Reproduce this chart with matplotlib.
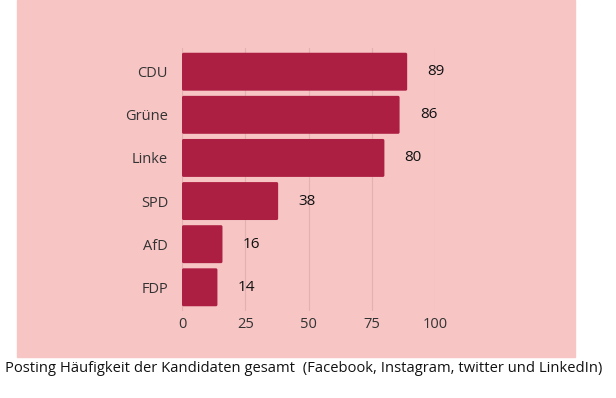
import matplotlib.pyplot as plt
from matplotlib.patches import Rectangle, FancyBboxPatch

parties = ['CDU', 'Grüne', 'Linke', 'SPD', 'AfD', 'FDP']
posts = [89, 86, 80, 38, 16, 14]
ticks = [0, 25, 50, 75, 100]
caption = 'Posting Häufigkeit der Kandidaten gesamt  (Facebook, Instagram, twitter und LinkedIn)'

pink = '#f6c5c4'
bar_col = '#ad1f42'
txt_col = '#333333'

plt.rcParams['font.family'] = ['Open Sans', 'DejaVu Sans']

fig = plt.figure(figsize=(6.16, 3.98), dpi=100)
W, H = 616, 398
fig.patches.append(Rectangle((17 / W, 1 - 357 / H), (575 - 17) / W, 357 / H,
                             transform=fig.transFigure, color=pink, zorder=-5))

# axes: x 0..100 -> px 182..435, rows span ~48..311
ax = fig.add_axes([182 / W, 1 - 311 / H, (435 - 182) / W, (311 - 48) / H])
ax.set_zorder(2)
ax.set_facecolor('none')
ax.set_xlim(0, 100)
ax.set_ylim(len(parties) - 0.45, -0.55)

for i, (p, v) in enumerate(zip(parties, posts)):
    bar = FancyBboxPatch((0, i - 0.44), v, 0.88,
                         boxstyle='round,pad=0,rounding_size=0.6',
                         mutation_aspect=0.06,
                         facecolor=bar_col, edgecolor='none', zorder=3)
    ax.add_patch(bar)
    ax.text(v + 8, i, str(v), va='center', ha='left', fontsize=11,
            color='#111111', clip_on=False)

ax.set_yticks(range(len(parties)))
ax.set_yticklabels(parties)
ax.set_xticks(ticks)
ax.grid(axis='x', color='#e4b0b0', linewidth=0.8, zorder=1)
ax.tick_params(length=0, labelsize=10.5, colors=txt_col)
ax.tick_params(axis='y', pad=10)
ax.tick_params(axis='x', pad=4)
for s in ax.spines.values():
    s.set_visible(False)

fig.text(304 / W, 1 - 369 / H, caption, ha='center', va='center',
         fontsize=10.6, color='#111111')

fig.savefig('out.png', dpi=100)
